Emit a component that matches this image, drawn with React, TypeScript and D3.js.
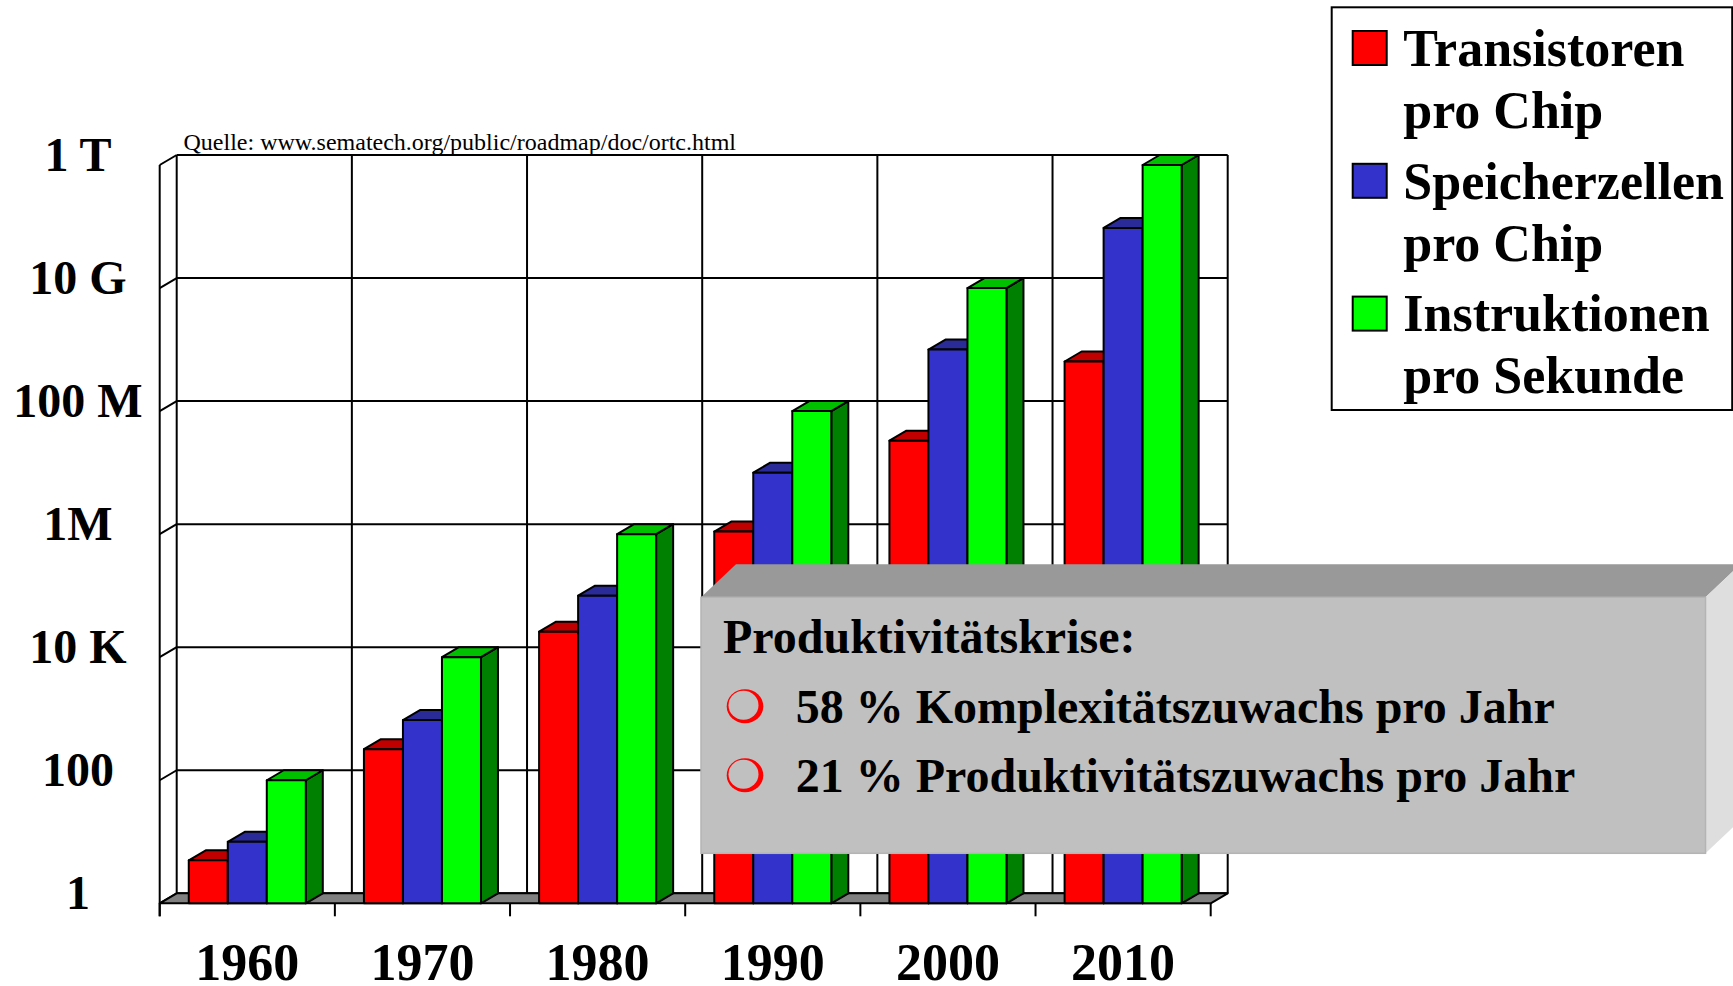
import React from "react";
import * as d3 from "d3";

// data
const years = ["1960", "1970", "1980", "1990", "2000", "2010"];
const transistoren = [5, 320, 26000, 1.1e6, 3.3e7, 6.4e8];
const speicherzellen = [10, 950, 1e5, 1e7, 1e9, 9.5e10];
const instruktionen = [100, 1e4, 1e6, 1e8, 1e10, 1e12];
const yTicks = [1, 100, 1e4, 1e6, 1e8, 1e10, 1e12];
const yTickLabels = ["1", "100", "10 K", "1M", "100 M", "10 G", "1 T"];
const seriesNames = [
  ["Transistoren", "pro Chip"],
  ["Speicherzellen", "pro Chip"],
  ["Instruktionen", "pro Sekunde"],
];
const calloutTitle = "Produktivitätskrise:";
const calloutLines = ["58 % Komplexitätszuwachs pro Jahr", "21 % Produktivitätszuwachs pro Jahr"];
const sourceText = "Quelle: www.sematech.org/public/roadmap/doc/ortc.html";

const series = [
  { key: "t", values: transistoren, front: "#FF0000", top: "#C00000", side: "#800000" },
  { key: "s", values: speicherzellen, front: "#3333CC", top: "#2A2A99", side: "#1A1A66" },
  { key: "i", values: instruktionen, front: "#00FF00", top: "#00C000", side: "#008000" },
];

const W = 1733;
const H = 986;
const FONT = "'Liberation Serif', 'Times New Roman', serif";

// back wall of the 3d plot, and depth offset toward the viewer
const backLeft = 176.7;
const backRight = 1227.7;
const backTop = 155;
const backBottom = 893.3;
const DX = 17;
const DY = 10;

export default function App() {
  const x = d3.scaleBand<string>().domain(years).range([backLeft, backRight]);
  const inner = d3
    .scaleBand<string>()
    .domain(series.map((s) => s.key))
    .range([0, x.bandwidth()])
    .paddingInner(0)
    .paddingOuter(0.745);
  const y = d3.scaleLog().domain([1, 1e12]).range([backBottom, backTop]);
  const bw = inner.bandwidth();

  const boundaries = d3.range(years.length + 1).map((i) => backLeft + i * x.bandwidth());
  const frontLeft = backLeft - DX;
  const frontRight = backRight - DX;
  const frontBottom = backBottom + DY;

  const pts = (a: number[][]) => a.map((p) => p.join(",")).join(" ");

  // callout box
  const cx0 = 701, cy0 = 597.3, cx1 = 1705.5, cy1 = 853.3, cdx = 35, cdy = 33;

  return (
    <svg
      width={W}
      height={H}
      style={{ position: "absolute", left: 0, top: 0, background: "#fff" }}
      fontFamily={FONT}
    >
      <rect x={0} y={0} width={W} height={H} fill="#fff" />

      {/* back wall grid */}
      <g stroke="#000" strokeWidth={2} fill="none">
        {yTicks.map((t) => (
          <line key={"h" + t} x1={backLeft} x2={backRight} y1={y(t)} y2={y(t)} />
        ))}
        {boundaries.map((b, i) => (
          <line key={"v" + i} x1={b} x2={b} y1={backTop} y2={backBottom} />
        ))}
        {/* left wall */}
        {yTicks.map((t) => (
          <line key={"d" + t} x1={frontLeft} y1={y(t) + DY} x2={backLeft} y2={y(t)} />
        ))}
        <line x1={frontLeft} x2={frontLeft} y1={y(1e12) + DY} y2={frontBottom + 13} />
      </g>

      {/* floor */}
      <polygon
        points={pts([
          [frontLeft, frontBottom],
          [backLeft, backBottom],
          [backRight, backBottom],
          [frontRight, frontBottom],
        ])}
        fill="#808080"
        stroke="#000"
        strokeWidth={2}
        strokeLinejoin="round"
      />
      <g stroke="#000" strokeWidth={2}>
        {boundaries.map((b, i) => (
          <line key={"tk" + i} x1={b - DX} x2={b - DX} y1={frontBottom} y2={frontBottom + 13} />
        ))}
      </g>

      {/* bars */}
      {years.map((yr, i) => (
        <g key={yr} stroke="#000" strokeWidth={2} strokeLinejoin="round">
          {series.map((s) => {
            const fx = (x(yr) as number) + (inner(s.key) as number) - DX;
            const fy = y(s.values[i]) + DY;
            return (
              <g key={s.key}>
                <polygon
                  points={pts([
                    [fx + bw, fy],
                    [fx + bw + DX, fy - DY],
                    [fx + bw + DX, backBottom],
                    [fx + bw, frontBottom],
                  ])}
                  fill={s.side}
                />
                <polygon
                  points={pts([
                    [fx, fy],
                    [fx + DX, fy - DY],
                    [fx + bw + DX, fy - DY],
                    [fx + bw, fy],
                  ])}
                  fill={s.top}
                />
                <rect x={fx} y={fy} width={bw} height={frontBottom - fy} fill={s.front} />
              </g>
            );
          })}
        </g>
      ))}

      {/* axis labels */}
      <g fontWeight="bold" fontSize={48} textAnchor="middle">
        {yTicks.map((t, i) => (
          <text key={"yl" + t} x={78} y={y(t) + 16}>
            {yTickLabels[i]}
          </text>
        ))}
      </g>
      <g fontWeight="bold" fontSize={52} textAnchor="middle">
        {years.map((yr) => (
          <text key={"xl" + yr} x={(x(yr) as number) + x.bandwidth() / 2 - DX} y={980}>
            {yr}
          </text>
        ))}
      </g>

      <text x={183.5} y={150} fontSize={24}>
        {sourceText}
      </text>

      {/* legend */}
      <rect x={1331.7} y={7.3} width={400.5} height={402.7} fill="#fff" stroke="#000" strokeWidth={2} />
      {series.map((s, i) => (
        <g key={"lg" + s.key}>
          <rect x={1352.7} y={31 + i * 132.8} width={34} height={34} fill={s.front} stroke="#000" strokeWidth={2} />
          <text x={1403.3} y={65.7 + i * 132.8} fontSize={52} fontWeight="bold">
            {seriesNames[i][0]}
          </text>
          <text x={1403.3} y={127.7 + i * 132.8} fontSize={52} fontWeight="bold">
            {seriesNames[i][1]}
          </text>
        </g>
      ))}

      {/* callout */}
      <polygon
        points={pts([
          [cx0, cy0],
          [cx0 + cdx, cy0 - cdy],
          [cx1 + cdx, cy0 - cdy],
          [cx1, cy0],
        ])}
        fill="#999999"
      />
      <polygon
        points={pts([
          [cx1, cy0],
          [cx1 + cdx, cy0 - cdy],
          [cx1 + cdx, cy1 - cdy],
          [cx1, cy1],
        ])}
        fill="#DEDEDE"
      />
      <rect x={cx0} y={cy0} width={cx1 - cx0} height={cy1 - cy0} fill="#C0C0C0" stroke="#B4B4B4" strokeWidth={1.5} />
      <text x={723} y={653.3} fontSize={48} fontWeight="bold">
        {calloutTitle}
      </text>
      {calloutLines.map((l, i) => (
        <g key={"cl" + i}>
          <ellipse cx={745} cy={706.3 + i * 69} rx={18.3} ry={17} fill="#FF0000" />
          <ellipse cx={743.5} cy={705.3 + i * 69} rx={15} ry={14.5} fill="#C0C0C0" />
          <text x={795.7} y={722.7 + i * 69} fontSize={48} fontWeight="bold">
            {l}
          </text>
        </g>
      ))}
    </svg>
  );
}
